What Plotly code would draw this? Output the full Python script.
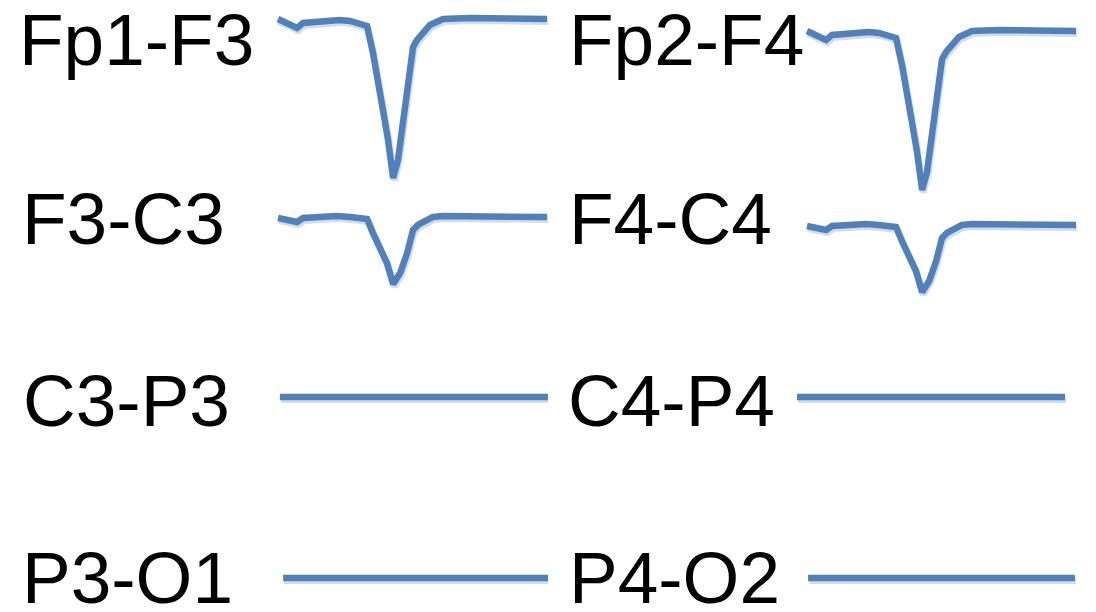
import plotly.graph_objects as go

# time axis (arbitrary units, 0-100 across each trace) and deflection (downward negative)
wave_t_fp = [0, 7.1, 9.3, 15.6, 23.0, 26.8, 33.1, 35.3, 36.8, 39.0, 40.9, 42.8,
             44.6, 47.2, 49.1, 50.2, 51.7, 56.5, 61.3, 71.4, 100]
wave_fp = [0, -9, -4, -2, -1, -2, -7, -34, -61, -91, -121, -159,
           -141, -88, -58, -28, -21, -6, 0, 1, 0]

wave_t_fc = [0, 7.1, 9.3, 21.9, 26.8, 33.1, 35.3, 37.9, 40.5, 42.8, 45.4, 48.0,
             50.2, 52.0, 57.6, 61.3, 100]
wave_fc = [-1, -5, -1, 1, 0, -2, -16, -33, -46, -67, -56, -36, -13, -8, 0, 1, 0]

# flat channels: start / end time, zero deflection
flat_t = {
    "C3-P3": [0.7, 100.4],
    "P3-O1": [1.9, 100.4],
    "C4-P4": [-3.7, 95.9],
    "P4-O2": [0.4, 99.6],
}
flat_v = [0, 0]

channels_left = ["Fp1-F3", "F3-C3", "C3-P3", "P3-O1"]
channels_right = ["Fp2-F4", "F4-C4", "C4-P4", "P4-O2"]

W, H = 1096, 612
BLUE = "#4f81bd"

# baseline of each channel row, in screen pixels from top
row_base_left = [19, 217, 397, 578]
row_base_right = [31, 225, 397, 578]
label_mid = [39.5, 218.5, 400.5, 577]

fig = go.Figure()


def channel_data(name):
    if name.startswith("Fp"):
        return wave_t_fp, wave_fp
    if name in ("F3-C3", "F4-C4"):
        return wave_t_fc, wave_fc
    return flat_t[name], flat_v


for chans, bases, xa in [(channels_left, row_base_left, "x"),
                         (channels_right, row_base_right, "x2")]:
    for name, base in zip(chans, bases):
        t, v = channel_data(name)
        y = [base - a for a in v]
        # soft shadow under the line
        fig.add_trace(go.Scatter(
            x=[ti + 0.4 for ti in t], y=[yi + 2.5 for yi in y], mode="lines",
            line=dict(color="rgba(0,0,0,0.14)", width=7),
            xaxis=xa, yaxis="y", showlegend=False, hoverinfo="skip"
        ))
        fig.add_trace(go.Scatter(
            x=t, y=y, mode="lines",
            line=dict(color=BLUE, width=6.5),
            xaxis=xa, yaxis="y", name=name, showlegend=False
        ))

# labels
label_x_left = [17, 20, 20.5, 20]
label_x_right = [567, 567, 565.5, 567]
for chans, xs in [(channels_left, label_x_left), (channels_right, label_x_right)]:
    for name, lx, ly in zip(chans, xs, label_mid):
        fig.add_annotation(
            x=lx / W, y=1 - ly / H, xref="paper", yref="paper",
            xanchor="left", yanchor="middle", text=name, showarrow=False,
            font=dict(family="Liberation Sans, Arial", size=73, color="black")
        )

# 2.69 px per time unit; trace start at x=278 (left) and x=807 (right)
px_per_t = 2.69
left_r0 = -278 / px_per_t
right_r0 = -(807 - 548) / px_per_t
span = 548 / px_per_t

axis_common = dict(showgrid=False, zeroline=False, showticklabels=False,
                   showline=False, ticks="")
fig.update_layout(
    width=W, height=H,
    margin=dict(l=0, r=0, t=0, b=0),
    plot_bgcolor="white", paper_bgcolor="white",
    xaxis=dict(domain=[0, 0.5], range=[left_r0, left_r0 + span], **axis_common),
    xaxis2=dict(domain=[0.5, 1], range=[right_r0, right_r0 + span], **axis_common),
    yaxis=dict(domain=[0, 1], range=[H, 0], **axis_common),
)

# drop the default page margin so the figure sits at the window's corner
fig.write_html("out.html", config={"displayModeBar": False},
               post_script="document.body.style.margin='0px';document.body.style.overflow='hidden';")
